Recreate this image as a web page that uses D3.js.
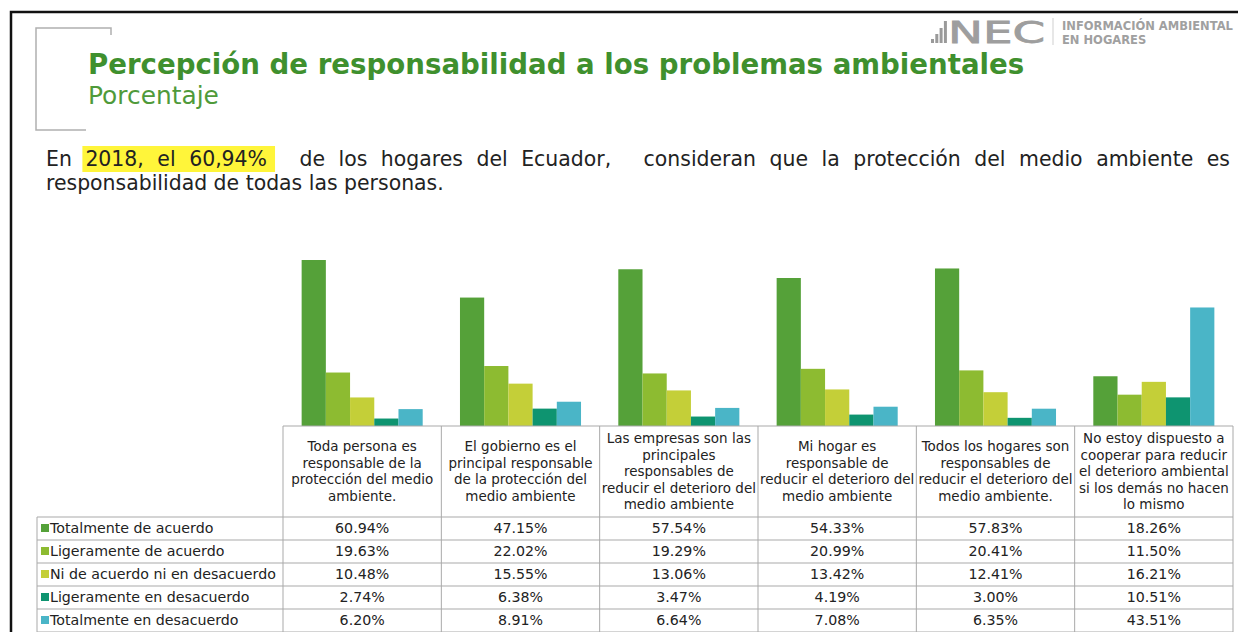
<!DOCTYPE html>
<html>
<head>
<meta charset="utf-8">
<script src="https://cdn.jsdelivr.net/npm/d3@7"></script>
<style>
    body { margin: 0; background: #fff; }
    svg { display: block; }
    text { font-family: "DejaVu Sans", sans-serif; }
</style>
</head>
<body>
<script>
(function () {
    // Column headers, split on the lines shown in the table
    var categories = [
        ['Toda persona es', 'responsable de la', 'protección del medio', 'ambiente.'],
        ['El gobierno es el', 'principal responsable', 'de la protección del', 'medio ambiente'],
        ['Las empresas son las', 'principales', 'responsables de', 'reducir el deterioro del', 'medio ambiente'],
        ['Mi hogar es', 'responsable de', 'reducir el deterioro del', 'medio ambiente'],
        ['Todos los hogares son', 'responsables de', 'reducir el deterioro del', 'medio ambiente.'],
        ['No estoy dispuesto a', 'cooperar para reducir', 'el deterioro ambiental', 'si los demás no hacen', 'lo mismo']
    ];
    var seriesNames = ['Totalmente de acuerdo', 'Ligeramente de acuerdo', 'Ni de acuerdo ni en desacuerdo',
        'Ligeramente en desacuerdo', 'Totalmente en desacuerdo'];

    // Percent values, one list per answer
    var totalAcuerdo = [60.94, 47.15, 57.54, 54.33, 57.83, 18.26];
    var ligeroAcuerdo = [19.63, 22.02, 19.29, 20.99, 20.41, 11.50];
    var niNi = [10.48, 15.55, 13.06, 13.42, 12.41, 16.21];
    var ligeroDesacuerdo = [2.74, 6.38, 3.47, 4.19, 3.00, 10.51];
    var totalDesacuerdo = [6.20, 8.91, 6.64, 7.08, 6.35, 43.51];
    var seriesValues = [totalAcuerdo, ligeroAcuerdo, niNi, ligeroDesacuerdo, totalDesacuerdo];

    var colors = ['#55a139', '#8dbb31', '#c4cf38', '#0e9470', '#4ab5c7'];

    var width = 1238,
        height = 632,
        tableLeft = 37,
        colLeft = 283,
        colRight = 1233,
        baseY = 426,
        headBottom = 517,
        rowH = 23,
        gridColor = '#a9a9a9';

    var svg = d3.select('body').append('svg')
        .attr('width', width)
        .attr('height', height);

    // Scale font so a text spans a given width
    function fit(sel, target) {
        var w = sel.node().getComputedTextLength();
        sel.attr('font-size', parseFloat(sel.attr('font-size')) * target / w);
        return sel;
    }

    // Frame and grey bracket
    svg.append('path')
        .attr('d', 'M11,' + height + 'V12H' + width)
        .attr('fill', 'none')
        .attr('stroke', '#111')
        .attr('stroke-width', 2.5);
    svg.append('path')
        .attr('d', 'M111,35V28H36V130H86')
        .attr('fill', 'none')
        .attr('stroke', '#b0b0b0')
        .attr('stroke-width', 1.5);

    // Titles
    fit(svg.append('text')
        .attr('x', 88).attr('y', 74)
        .attr('font-size', 28).attr('font-weight', 'bold')
        .attr('fill', '#3f902e')
        .text('Percepción de responsabilidad a los problemas ambientales'), 937);
    fit(svg.append('text')
        .attr('x', 88).attr('y', 104)
        .attr('font-size', 21)
        .attr('fill', '#4f9a3a')
        .text('Porcentaje'), 131);

    // INEC logo
    var logo = svg.append('g').attr('fill', '#9a9a9a');
    [4, 9, 15, 22].forEach(function (h, i) {
        logo.append('rect').attr('x', 931 + i * 4.3).attr('y', 43 - h).attr('width', 3).attr('height', h);
    });
    logo.append('text').attr('x', 948).attr('y', 43)
        .attr('font-size', 31).attr('textLength', 97).attr('lengthAdjust', 'spacingAndGlyphs')
        .attr('fill', '#9e9e9e').attr('stroke', '#9e9e9e').attr('stroke-width', 0.8)
        .text('NEC');
    svg.append('line').attr('x1', 1053).attr('x2', 1053).attr('y1', 18).attr('y2', 45)
        .attr('stroke', '#cfcfcf');
    var infoTxt = fit(svg.append('text').attr('x', 1062).attr('y', 30)
        .attr('font-size', 11).attr('font-weight', 'bold').attr('fill', '#a0a0a0')
        .text('INFORMACIÓN AMBIENTAL'), 171);
    svg.append('text').attr('x', 1062).attr('y', 44)
        .attr('font-size', infoTxt.attr('font-size'))
        .attr('font-weight', 'bold').attr('fill', '#a0a0a0')
        .text('EN HOGARES');

    // Body text: second line fixes the size, first line is justified
    var line2 = fit(svg.append('text')
        .attr('x', 46).attr('y', 190)
        .attr('font-size', 19).attr('fill', '#222')
        .text('responsabilidad de todas las personas.'), 398);
    var bodySize = line2.attr('font-size');

    var line1 = 'En 2018, el 60,94%  de los hogares del Ecuador,  consideran que la protección del medio ambiente es';
    var tokens = line1.split(' ');
    var words = [], gaps = [], pending = 0;
    tokens.forEach(function (t) {
        if (t === '') { pending++; return; }
        gaps.push(words.length ? 1 + pending * 1.4 : 0);
        words.push(t);
        pending = 0;
    });
    var hl = svg.append('rect').attr('fill', '#fff53a');
    var wordSel = svg.selectAll('.word')
        .data(words).enter().append('text')
        .attr('class', 'word')
        .attr('y', 166)
        .attr('font-size', bodySize)
        .attr('fill', '#222')
        .text(function (d) { return d; });
    var widths = [];
    wordSel.each(function () { widths.push(this.getComputedTextLength()); });
    var gapUnit = (1230 - 46 - d3.sum(widths)) / d3.sum(gaps);
    var xs = [], cx = 46;
    words.forEach(function (w, i) {
        cx += gaps[i] * gapUnit;
        xs.push(cx);
        cx += widths[i];
    });
    wordSel.attr('x', function (d, i) { return xs[i]; });
    hl.attr('x', xs[1] - 3).attr('y', 146)
        .attr('width', xs[3] + widths[3] + 8 - xs[1] + 3)
        .attr('height', 26);

    // Scales
    var x0 = d3.scaleBand()
        .domain(d3.range(categories.length))
        .range([colLeft, colRight]);
    var x1 = d3.scaleBand()
        .domain(d3.range(seriesNames.length))
        .range([0, x0.bandwidth()])
        .paddingInner(0)
        .paddingOuter(0.77);
    var y = d3.scaleLinear()
        .domain([0, 100])
        .range([baseY, baseY - 272.4]);

    // Bars
    var groups = svg.selectAll('.group')
        .data(categories).enter().append('g')
        .attr('class', 'group')
        .attr('transform', function (d, i) { return 'translate(' + x0(i) + ',0)'; });
    groups.selectAll('rect')
        .data(function (d, i) {
            return seriesValues.map(function (s, k) { return { k: k, v: s[i] }; });
        })
        .enter().append('rect')
        .attr('x', function (d) { return x1(d.k); })
        .attr('width', x1.bandwidth())
        .attr('y', function (d) { return y(d.v); })
        .attr('height', function (d) { return y(0) - y(d.v); })
        .attr('fill', function (d) { return colors[d.k]; });

    // Table
    var table = svg.append('g');
    var probe = fit(table.append('text').attr('font-size', 13).text('Ni de acuerdo ni en desacuerdo'), 226);
    var tableFont = +probe.attr('font-size');
    probe.remove();
    // header font: longest line has to fit inside its cell
    probe = fit(table.append('text').attr('font-size', 13).text('reducir el deterioro del'), x0.bandwidth() - 4);
    var headFont = Math.min(tableFont, +probe.attr('font-size'));
    probe.remove();

    var rowY = d3.range(seriesNames.length + 1).map(function (i) { return headBottom + i * rowH; });

    // horizontal lines
    table.append('line').attr('x1', colLeft).attr('x2', colRight).attr('y1', baseY).attr('y2', baseY);
    rowY.forEach(function (ry) {
        table.append('line').attr('x1', tableLeft).attr('x2', colRight).attr('y1', ry).attr('y2', ry);
    });
    // vertical lines
    table.append('line').attr('x1', tableLeft).attr('x2', tableLeft).attr('y1', headBottom).attr('y2', height);
    d3.range(categories.length + 1).forEach(function (i) {
        var vx = i < categories.length ? x0(i) : colRight;
        table.append('line').attr('x1', vx).attr('x2', vx).attr('y1', baseY).attr('y2', height);
    });
    table.selectAll('line').attr('stroke', gridColor).attr('stroke-width', 1);

    // header text
    var headCenter = (baseY + headBottom) / 2;
    groups.each(function (lines, i) {
        var t = table.append('text')
            .attr('text-anchor', 'middle')
            .attr('font-size', headFont)
            .attr('fill', '#222');
        lines.forEach(function (l, j) {
            t.append('tspan')
                .attr('x', x0(i) + x0.bandwidth() / 2)
                .attr('y', headCenter + (j - (lines.length - 1) / 2) * 16.5)
                .attr('dy', '0.35em')
                .text(l);
        });
    });

    // rows
    seriesNames.forEach(function (name, k) {
        var cy = rowY[k] + rowH / 2;
        table.append('rect')
            .attr('x', 41).attr('y', cy - 4.5)
            .attr('width', 8).attr('height', 8)
            .attr('fill', colors[k]);
        table.append('text')
            .attr('x', 50).attr('y', cy).attr('dy', '0.35em')
            .attr('font-size', tableFont).attr('fill', '#222')
            .text(name);
        seriesValues[k].forEach(function (v, i) {
            table.append('text')
                .attr('x', x0(i) + x0.bandwidth() / 2)
                .attr('y', cy).attr('dy', '0.35em')
                .attr('text-anchor', 'middle')
                .attr('font-size', tableFont).attr('fill', '#222')
                .text(d3.format('.2f')(v) + '%');
        });
    });
})();
</script>
</body>
</html>
